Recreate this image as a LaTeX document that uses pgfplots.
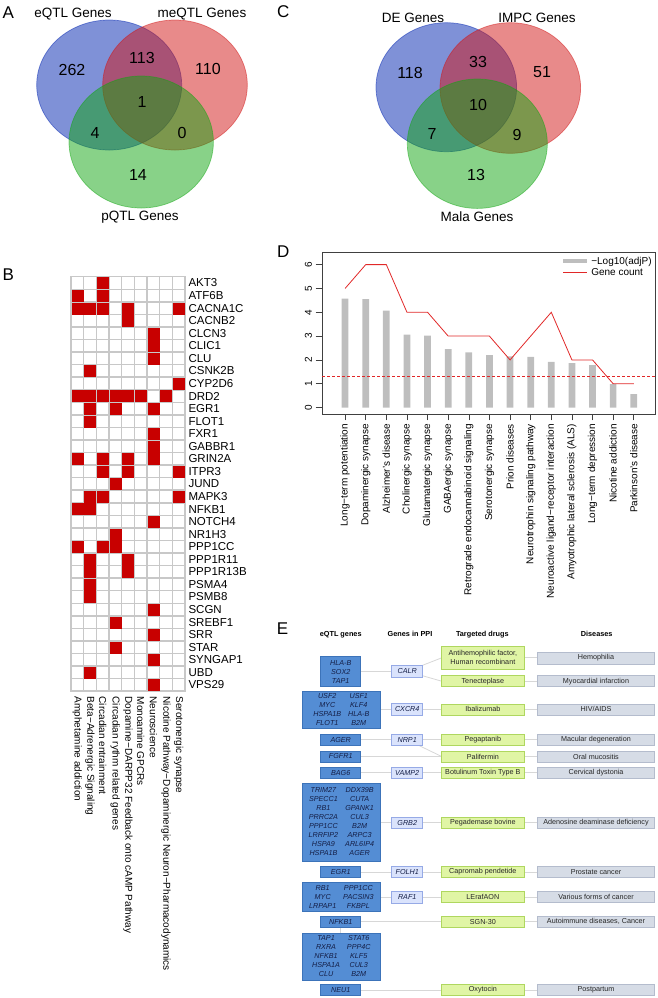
\documentclass[border=0pt]{standalone}
\usepackage{fontspec}
\setmainfont{Liberation Sans}
\usepackage{pgfplots}
\pgfplotsset{compat=1.18}
\definecolor{vblue}{RGB}{0,35,175}
\definecolor{vred}{RGB}{209,21,21}
\definecolor{vgreen}{RGB}{17,165,17}
\definecolor{cellred}{RGB}{200,0,0}
\definecolor{gridgray}{RGB}{200,200,200}
\definecolor{barg}{RGB}{190,190,190}
\definecolor{linered}{RGB}{225,40,40}
\definecolor{eqfill}{RGB}{84,141,212}
\definecolor{eqdraw}{RGB}{60,115,185}
\definecolor{eqtext}{RGB}{20,30,70}
\definecolor{ppifill}{RGB}{218,227,252}
\definecolor{ppidraw}{RGB}{150,170,230}
\definecolor{drugfill}{RGB}{224,245,165}
\definecolor{drugdraw}{RGB}{175,215,95}
\definecolor{disfill}{RGB}{214,220,230}
\definecolor{disdraw}{RGB}{180,188,205}
\definecolor{conn}{RGB}{215,215,215}
\tikzset{
  eq/.style={fill=eqfill, draw=eqdraw, line width=0.5pt},
  eq text/.style={inner sep=0pt, align=center, text=eqtext, font=\fontsize{7.2}{9}\selectfont\itshape},
  ppi/.style={fill=ppifill, draw=ppidraw, line width=0.5pt},
  ppi text/.style={inner sep=0pt, align=center, text=eqtext, font=\fontsize{7.2}{9}\selectfont\itshape},
  drug/.style={fill=drugfill, draw=drugdraw, line width=0.5pt},
  drug text/.style={inner sep=0pt, align=center, text=black!85, font=\fontsize{7.2}{9}\selectfont},
  dis/.style={fill=disfill, draw=disdraw, line width=0.5pt},
  dis text/.style={inner sep=0pt, align=center, text=black!85, font=\fontsize{7.2}{9}\selectfont},
  con/.style={draw=conn, line width=0.8pt},
  vnum/.style={font=\fontsize{16}{19}\selectfont},
  vlab/.style={font=\fontsize{13.5}{16}\selectfont},
  plet/.style={font=\fontsize{17}{20}\selectfont},
  ehead/.style={font=\fontsize{7.3}{9}\selectfont\bfseries},
}
\newcommand\EB[6]{\draw[#1] ({#2-(#4)/2},{#3-(#5)/2}) rectangle ({#2+(#4)/2},{#3+(#5)/2}); \node[#1 text] at (#2,#3) {#6};}
\newcommand\TT[1]{\begin{tabular}{@{}c@{\hspace{7pt}}c@{}}#1\end{tabular}}

\begin{document}
\begin{tikzpicture}
\path[use as bounding box] (0,0) rectangle (657pt,-998pt);

% ---------- canvas: Venn diagrams, panel E, letters ----------
\begin{axis}[at={(0pt,0pt)}, anchor=north west, scale only axis,
  width=657pt, height=998pt, xmin=0, xmax=657, ymin=0, ymax=998,
  y dir=reverse, hide axis, clip=false]
% Panel A
\filldraw[fill=vblue, fill opacity=0.5, draw=vblue, draw opacity=0.5, line width=0.7pt] (109.2,85) ellipse [x radius=72.5, y radius=65];
\filldraw[fill=vred, fill opacity=0.5, draw=vred, draw opacity=0.5, line width=0.7pt] (175,85) ellipse [x radius=72.3, y radius=65];
\filldraw[fill=vgreen, fill opacity=0.5, draw=vgreen, draw opacity=0.5, line width=0.7pt] (141.2,142) ellipse [x radius=72.2, y radius=66];
\node[vlab] at (73,14) {eQTL Genes};
\node[vlab] at (202,14) {meQTL Genes};
\node[vlab] at (140,217) {pQTL Genes};
\node[vnum] at (72,70) {262};
\node[vnum] at (142,58) {113};
\node[vnum] at (208,69) {110};
\node[vnum] at (142,102) {1};
\node[vnum] at (95,133) {4};
\node[vnum] at (182,133) {0};
\node[vnum] at (138,175) {14};
% Panel C
\filldraw[fill=vblue, fill opacity=0.5, draw=vblue, draw opacity=0.5, line width=0.7pt] (446.3,87.2) ellipse [x radius=70.3, y radius=64.5];
\filldraw[fill=vred, fill opacity=0.5, draw=vred, draw opacity=0.5, line width=0.7pt] (510.3,88) ellipse [x radius=70.3, y radius=65.3];
\filldraw[fill=vgreen, fill opacity=0.5, draw=vgreen, draw opacity=0.5, line width=0.7pt] (477.3,143.7) ellipse [x radius=70, y radius=64.7];
\node[vlab] at (413,18) {DE Genes};
\node[vlab] at (537,18) {IMPC Genes};
\node[vlab] at (477,217) {Mala Genes};
\node[vnum] at (410,73) {118};
\node[vnum] at (478,62) {33};
\node[vnum] at (542,72) {51};
\node[vnum] at (478,105) {10};
\node[vnum] at (432,134) {7};
\node[vnum] at (517,135) {9};
\node[vnum] at (476,175) {13};
% letters
\node[plet] at (8.3,12.5) {A};
\node[plet] at (283.3,12) {C};
\node[plet] at (8.3,275) {B};
\node[plet] at (283.3,251.7) {D};
\node[plet] at (282.5,629) {E};
% Panel E headers
\node[ehead] at (340.7,634.3) {eQTL genes};
\node[ehead] at (410,634.3) {Genes in PPI};
\node[ehead] at (482.3,634.3) {Targeted drugs};
\node[ehead] at (596.7,634.3) {Diseases};
% connectors
\draw[con] (340,671.7) -- (407.2,671.3);
\draw[con] (407.2,671.3) -- (441.7,657.8);
\draw[con] (407.2,671.3) -- (441.7,681.2);
\draw[con] (482,657.8) -- (596,657.8);
\draw[con] (482,681.2) -- (596,681.2);
\draw[con] (340,709.3) -- (596,709.3);
\draw[con] (340,739.8) -- (596,739.8);
\draw[con] (407.2,739.8) -- (441.7,756.5);
\draw[con] (340,756.5) -- (596,756.5);
\draw[con] (340,772.8) -- (596,772.8);
\draw[con] (340,822.5) -- (596,822.5);
\draw[con] (340,872) -- (596,872);
\draw[con] (340,897.2) -- (596,897.2);
\draw[con] (340,921.7) -- (596,921.7);
\draw[con] (340.7,921.7) -- (340.7,957);
\draw[con] (340,990) -- (596,990);
% eQTL genes boxes
\EB{eq}{340.7}{671.7}{40}{30}{HLA-B\\SOX2\\TAP1}
\EB{eq}{341.35}{709.7}{77.3}{37.3}{\TT{USF2 & USF1\\MYC & KLF4\\HSPA1B & HLA-B\\FLOT1 & B2M}}
\EB{eq}{340.7}{739.5}{40}{11}{AGER}
\EB{eq}{340.7}{756.4}{40}{11}{FGFR1}
\EB{eq}{340.7}{772.8}{40}{11}{BAG6}
\EB{eq}{341.35}{822.2}{77.3}{77.7}{\TT{TRIM27 & DDX39B\\SPECC1 & CUTA\\RB1 & GPANK1\\PRRC2A & CUL3\\PPP1CC & B2M\\LRRFIP2 & ARPC3\\HSPA9 & ARL6IP4\\HSPA1B & AGER}}
\EB{eq}{340.7}{872}{40}{11}{EGR1}
\EB{eq}{341.35}{897.2}{77.3}{29}{\TT{RB1 & PPP1CC\\MYC & PACSIN3\\LRPAP1 & FKBPL}}
\EB{eq}{340.7}{921.7}{40}{11}{NFKB1}
\EB{eq}{341.35}{957}{77.3}{47.4}{\TT{TAP1 & STAT6\\RXRA & PPP4C\\NFKB1 & KLF5\\HSPA1A & CUL3\\CLU & B2M}}
\EB{eq}{340.7}{990}{40}{11}{NEU1}
% PPI boxes
\EB{ppi}{407.2}{671.3}{31}{12.5}{CALR}
\EB{ppi}{407.2}{709.3}{31}{11.5}{CXCR4}
\EB{ppi}{407.2}{739.8}{31}{11}{NRP1}
\EB{ppi}{407.2}{772.8}{31}{11}{VAMP2}
\EB{ppi}{407.2}{822.5}{31}{11.5}{GRB2}
\EB{ppi}{407.2}{872}{31}{11}{FOLH1}
\EB{ppi}{407.2}{897.2}{31}{12.3}{RAF1}
% drug boxes
\EB{drug}{482.85}{657.8}{82.3}{23}{Antihemophilic factor,\\Human recombinant}
\EB{drug}{482.85}{681.2}{82.3}{11}{Tenecteplase}
\EB{drug}{482.85}{709.3}{82.3}{11}{Ibalizumab}
\EB{drug}{482.85}{739.8}{82.3}{11}{Pegaptanib}
\EB{drug}{482.85}{756.5}{82.3}{11}{Palifermin}
\EB{drug}{482.85}{772.8}{82.3}{11}{Botulinum Toxin Type B}
\EB{drug}{482.85}{822.5}{82.3}{11}{Pegademase bovine}
\EB{drug}{482.85}{872}{82.3}{11}{Capromab pendetide}
\EB{drug}{482.85}{897.2}{82.3}{11}{LErafAON}
\EB{drug}{482.85}{921.7}{82.3}{11}{SGN-30}
\EB{drug}{482.85}{990}{82.3}{11}{Oxytocin}
% disease boxes
\EB{dis}{596}{658}{116.6}{11.5}{Hemophilia}
\EB{dis}{596}{681.2}{116.6}{11}{Myocardial infarction}
\EB{dis}{596}{709.3}{116.6}{11}{HIV/AIDS}
\EB{dis}{596}{739.8}{116.6}{11}{Macular degeneration}
\EB{dis}{596}{756.5}{116.6}{11}{Oral mucositis}
\EB{dis}{596}{772.8}{116.6}{11}{Cervical dystonia}
\EB{dis}{596}{822.5}{116.6}{11}{Adenosine deaminase deficiency}
\EB{dis}{596}{872}{116.6}{11}{Prostate cancer}
\EB{dis}{596}{897.2}{116.6}{11}{Various forms of cancer}
\EB{dis}{596}{921.7}{116.6}{11}{Autoimmune diseases, Cancer}
\EB{dis}{596}{990}{116.6}{11}{Postpartum}
\end{axis}

% ---------- Panel B ----------
\begin{axis}[at={(71pt,-276.7pt)}, anchor=north west, scale only axis,
  width=114pt, height=414.5pt,
  xmin=0.5, xmax=9.5, ymin=0.5, ymax=33.5, y dir=reverse,
  axis line style={gridgray, line width=1.5pt},
  xtick={1,...,9}, ytick={1,...,33},
  major tick length=0pt,
  yticklabel pos=right,
  yticklabels={AKT3,ATF6B,CACNA1C,CACNB2,CLCN3,CLIC1,CLU,CSNK2B,CYP2D6,DRD2,EGR1,FLOT1,FXR1,GABBR1,GRIN2A,ITPR3,JUND,MAPK3,NFKB1,NOTCH4,NR1H3,PPP1CC,PPP1R11,PPP1R13B,PSMA4,PSMB8,SCGN,SREBF1,SRR,STAR,SYNGAP1,UBD,VPS29},
  xticklabels={Amphetamine addiction,Beta−Adrenergic Signaling,Circadian entrainment,Circadian rythm related genes,Dopamine−DARPP32 Feedback onto cAMP Pathway,Monoamine GPCRs,Neuroscience,Nicotine Pathway−Dopaminergic Neuron−Pharmacodynamics,Serotonergic synapse},
  x tick label style={rotate=-90, anchor=west, font=\fontsize{10}{12}\selectfont, xshift=2pt},
  y tick label style={anchor=west, font=\fontsize{11.5}{13}\selectfont},
]
\pgfplotsinvokeforeach{1.5,2.5,3.5,4.5,5.5,6.5,7.5,8.5}{\draw[gridgray, line width=1.5pt] (#1,0.5) -- (#1,33.5);}
\pgfplotsinvokeforeach{1.5,2.5,...,32.5}{\draw[gridgray, line width=1.5pt] (0.5,#1) -- (9.5,#1);}
\draw[gridgray, line width=1.5pt] (0.5,0.5) rectangle (9.5,33.5);
\addplot[cellred, only marks, mark=square*, mark size=5.5pt, mark options={solid, fill=cellred, draw=cellred, line width=0.2pt}] coordinates {
(3,1)
(1,2)(3,2)
(1,3)(2,3)(3,3)(5,3)(9,3)
(5,4)
(7,5)
(7,6)
(7,7)
(2,8)
(9,9)
(1,10)(2,10)(3,10)(4,10)(5,10)(6,10)(8,10)
(2,11)(4,11)(7,11)
(2,12)
(7,13)
(7,14)
(1,15)(3,15)(5,15)(7,15)
(3,16)(5,16)(9,16)
(4,17)
(2,18)(3,18)(9,18)
(1,19)(2,19)
(7,20)
(4,21)
(1,22)(3,22)(4,22)
(2,23)(5,23)
(2,24)(5,24)
(2,25)
(2,26)
(7,27)
(4,28)
(7,29)
(4,30)
(7,31)
(2,32)
(7,33)
};
\end{axis}

% ---------- Panel D ----------
\begin{axis}[at={(322pt,-252pt)}, anchor=north west, scale only axis,
  width=333pt, height=162pt,
  xmin=-0.12, xmax=16.03, ymin=-0.27, ymax=6.53,
  axis line style={black!75, line width=0.6pt},
  xtick={1,...,15}, ytick={0,...,6},
  tick align=outside, tick pos=left, major tick length=6.5pt,
  tick style={black!75, line width=0.6pt},
  xticklabels={Long−term potentiation,Dopaminergic synapse,Alzheimer's disease,Cholinergic synapse,Glutamatergic synapse,GABAergic synapse,Retrograde endocannabinoid signaling,Serotonergic synapse,Prion diseases,Neurotrophin signaling pathway,Neuroactive ligand−receptor interaction,Amyotrophic lateral sclerosis (ALS),Long−term depression,Nicotine addiction,Parkinson's disease},
  x tick label style={rotate=90, anchor=east, font=\fontsize{10}{12}\selectfont},
  y tick label style={rotate=90, anchor=south, font=\fontsize{10}{12}\selectfont},
  /pgf/number format/assume math mode=true,
  legend style={at={(0.715,0.99)}, anchor=north west, draw=none, fill=none,
    font=\fontsize{10}{12}\selectfont, row sep=-1pt, inner sep=1pt},
  legend cell align=left,
]
\addplot[ybar, bar width=6.7pt, bar shift=0pt, fill=barg, draw=none,
  legend image code/.code={\draw[barg, line width=4pt] (0pt,0pt) -- (24pt,0pt);}]
  coordinates {(1,4.57)(2,4.55)(3,4.07)(4,3.06)(5,3.02)(6,2.45)(7,2.32)(8,2.20)(9,2.15)(10,2.13)(11,1.92)(12,1.87)(13,1.78)(14,0.98)(15,0.56)};
\addplot[linered, line width=0.8pt, mark=none,
  legend image code/.code={\draw[linered, line width=0.8pt] (0pt,0pt) -- (24pt,0pt);}]
  coordinates {(1,5)(2,6)(3,6)(4,4)(5,4)(6,3)(7,3)(8,3)(9,2)(10,3)(11,4)(12,2)(13,2)(14,1)(15,1)};
\addplot[linered, line width=0.6pt, dash pattern=on 3pt off 2pt, forget plot]
  coordinates {(-0.12,1.3)(16.03,1.3)};
\legend{−Log10(adjP),Gene count}
\end{axis}
\end{tikzpicture}
\end{document}
